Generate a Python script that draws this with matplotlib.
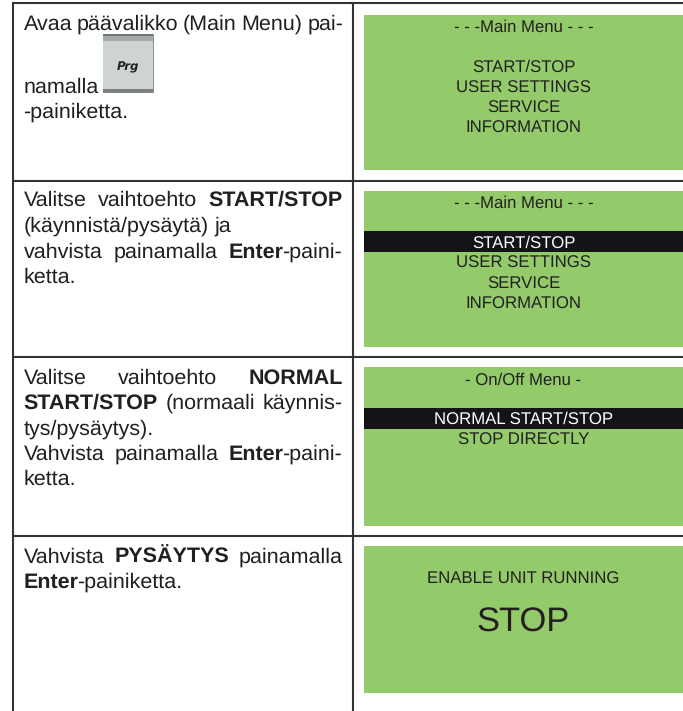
import matplotlib
matplotlib.use('Agg')
import matplotlib.pyplot as plt
from matplotlib.patches import Rectangle

plt.rcParams['font.family'] = ['Liberation Sans', 'DejaVu Sans']
plt.rcParams['text.hinting'] = 'no_hinting'

# vasen sarake: rivit (teksti, lihavointi), tasaus
row1_lines = [
    ([("Avaa päävalikko (Main Menu) pai-", False)], True),
    ([("namalla", False)], False),
    ([("-painiketta.", False)], False),
]
row2_lines = [
    ([("Valitse vaihtoehto ", False), ("START/STOP", True)], True),
    ([("(käynnistä/pysäytä) ja", False)], False),
    ([("vahvista painamalla ", False), ("Enter", True), ("-paini-", False)], True),
    ([("ketta.", False)], False),
]
row3_lines = [
    ([("Valitse vaihtoehto ", False), ("NORMAL", True)], True),
    ([("START/STOP", True), (" (normaali käynnis-", False)], True),
    ([("tys/pysäytys).", False)], False),
    ([("Vahvista painamalla ", False), ("Enter", True), ("-paini-", False)], True),
    ([("ketta.", False)], False),
]
row4_lines = [
    ([("Vahvista ", False), ("PYSÄYTYS", True), (" painamalla", False)], True),
    ([("Enter", True), ("-painiketta.", False)], False),
]
left_rows = [row1_lines, row2_lines, row3_lines, row4_lines]
left_baselines = [[30, 93, 118], [206, 232, 258, 283], [384, 409, 435, 460, 485], [563, 588]]

# oikea sarake: näytöt
screen_tops = [15, 191, 367, 546]
screen_bottoms = [170, 347, 526, 693]
screen1_text = ["- - -Main Menu - - -", "START/STOP", "USER SETTINGS", "SERVICE", "INFORMATION"]
screen1_y = [25.5, 65.7, 86, 106, 126]
screen2_text = ["- - -Main Menu - - -", "START/STOP", "USER SETTINGS", "SERVICE", "INFORMATION"]
screen2_y = [201.7, 241.7, 261.7, 282, 302]
screen3_text = ["- On/Off Menu -", "NORMAL START/STOP", "STOP DIRECTLY"]
screen3_y = [378.3, 417.7, 438.3]
screen4_text = ["ENABLE UNIT RUNNING"]
screen4_y = [577]

GREEN = '#93cb6b'
INK = '#231f20'
LINE = '#333333'
LEFT_X, RIGHT_X = 23.5, 343
LEFT_SIZE = 15.45
SCREEN_SIZE = 12.1
SCREEN_X = 523.5

fig = plt.figure(figsize=(6.83, 7.11), dpi=100)
ax = fig.add_axes([0, 0, 1, 1])
ax.set_xlim(0, 683)
ax.set_ylim(711, 0)
ax.axis('off')
renderer = fig.canvas.get_renderer()


def draw_line(runs, y, justify):
    # pilkotaan sanoiksi, jotta tasaus saadaan kuten painetussa ohjeessa
    words = []
    for s, bold in runs:
        glue = not s.startswith(' ') and len(words) > 0 and not words[-1][2]
        parts = s.split()
        for i, part in enumerate(parts):
            words.append([part, bold, False, glue and i == 0])
        words[-1][2] = s.endswith(' ')
    items = []
    for w in words:
        t = ax.text(0, y, w[0], fontsize=LEFT_SIZE, fontweight='bold' if w[1] else 'normal',
                    color=INK, ha='left', va='baseline')
        items.append((t, t.get_window_extent(renderer).width, w[3]))
    total = sum(it[1] for it in items)
    gaps = sum(1 for it in items if not it[2]) - 1
    gap = LEFT_SIZE * 100 / 72 * 0.278
    if justify and gaps > 0:
        gap = (RIGHT_X - LEFT_X - total) / gaps
    x = LEFT_X
    for i, (t, width, glued) in enumerate(items):
        if i > 0 and not glued:
            x += gap
        if glued:
            x -= 1
        t.set_x(x)
        x += width


for lines, ys in zip(left_rows, left_baselines):
    for (runs, justify), y in zip(lines, ys):
        draw_line(runs, y, justify)

# Prg-painike
ax.add_patch(Rectangle((103, 34), 51, 59, fc='#cfd3d3', ec='none'))
ax.add_patch(Rectangle((103, 34), 51, 2, fc='#6f7675', ec='none'))
ax.add_patch(Rectangle((103, 36), 51, 5, fc='#a4aaa9', ec='none'))
ax.add_patch(Rectangle((103, 89), 51, 4, fc='#7b8281', ec='none'))
ax.add_patch(Rectangle((152.5, 34), 1.5, 59, fc='#8d9392', ec='none'))
ax.text(128, 67, "Prg", fontsize=8.5, fontweight='bold', fontstyle='italic', color='#222222',
        ha='center', va='center', family='DejaVu Sans')

# näytöt
for top, bottom in zip(screen_tops, screen_bottoms):
    ax.add_patch(Rectangle((364, top), 319, bottom - top, fc=GREEN, ec='none'))
ax.add_patch(Rectangle((364, 231), 319, 21, fc='#141318', ec='none'))
ax.add_patch(Rectangle((364, 407.7), 319, 21, fc='#141318', ec='none'))

for labels, ys in [(screen1_text, screen1_y), (screen2_text, screen2_y),
                   (screen3_text, screen3_y), (screen4_text, screen4_y)]:
    for label, y in zip(labels, ys):
        col = 'white' if y in (241.7, 417.7) else INK
        ax.text(SCREEN_X, y + 2.2, label, fontsize=SCREEN_SIZE, color=col, ha='center', va='center')
ax.text(SCREEN_X, 623, "STOP", fontsize=24.8, color=INK, ha='center', va='center')

# taulukon viivat
for y in [3, 180.5, 356.5, 535.5]:
    ax.plot([12, 683], [y, y], color=LINE, lw=1.5, solid_capstyle='butt')
for x in [12.7, 353.3]:
    ax.plot([x, x], [2, 711], color=LINE, lw=1.5, solid_capstyle='butt')

fig.savefig('out.png', dpi=100)
